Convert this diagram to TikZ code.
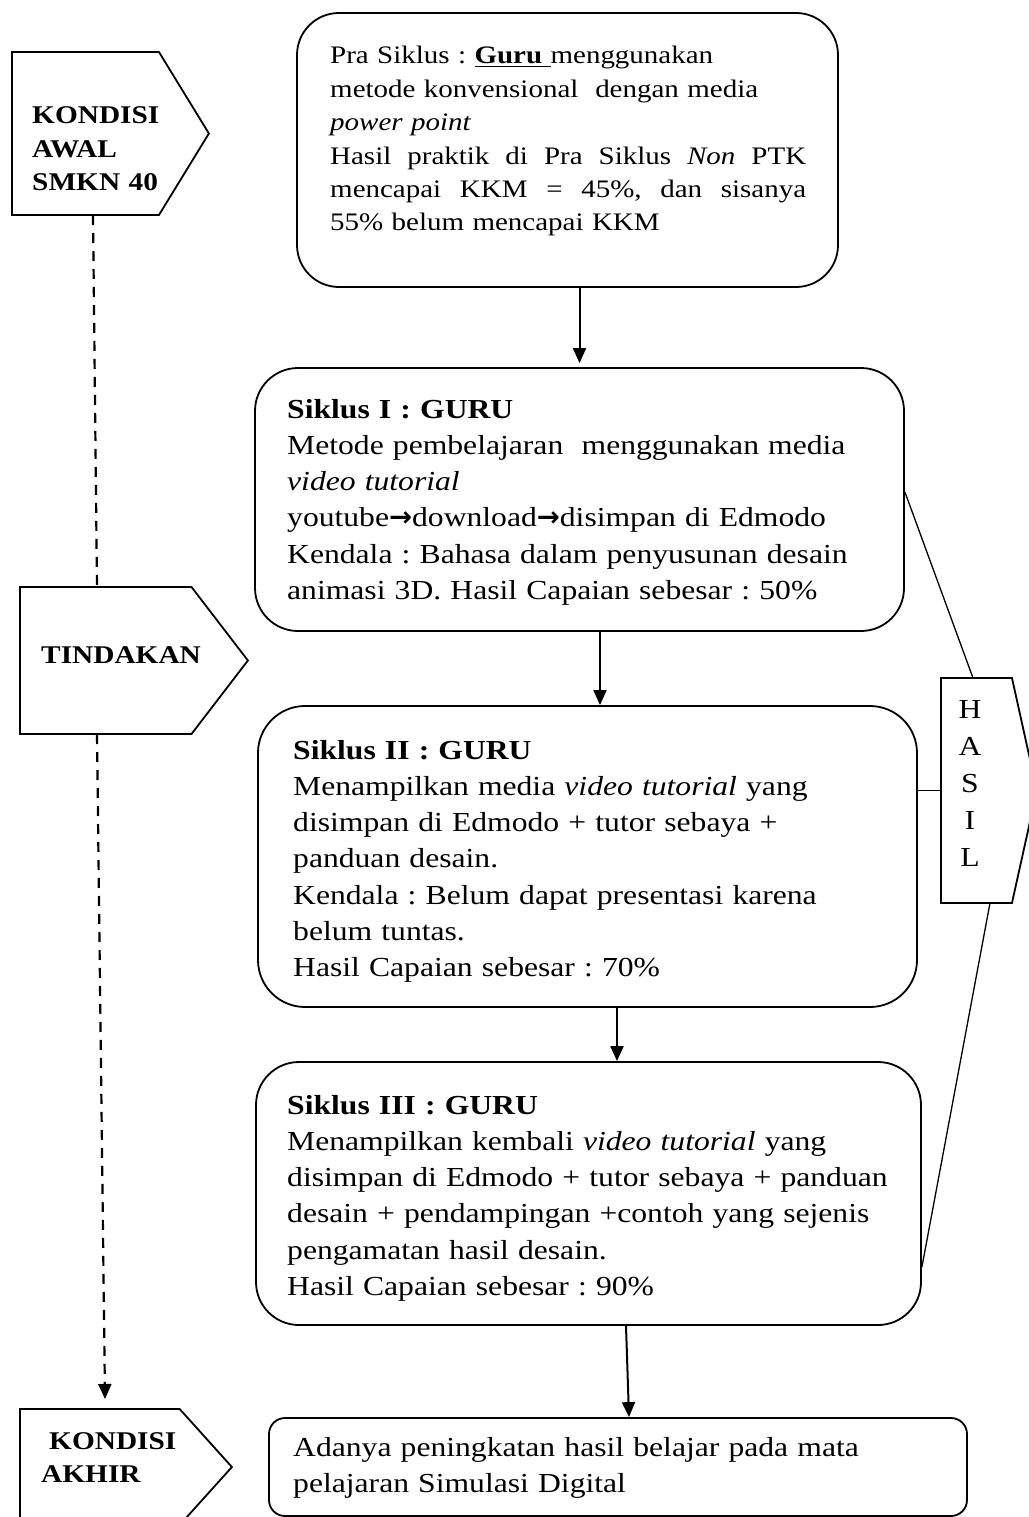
\documentclass[tikz,border=0pt]{standalone}
\usepackage{fontspec}
\setmainfont{Liberation Serif}[FakeStretch=1.15]
\newfontfamily\panahfont{DejaVu Sans}
\usetikzlibrary{shapes.symbols,arrows.meta}
\frenchspacing

\tikzset{
  kotak/.style={draw,line width=1.8pt,rounded corners=#1,inner sep=0pt},
  kotak/.default=43pt,
  penanda/.style={draw,line width=1.8pt,shape=signal,signal from=nowhere,signal to=east,inner sep=0pt,anchor=west},
  teks/.style={inner sep=0pt,anchor=base west,text width=#1,font=\fontsize{27.5}{36.3}\selectfont},
  teks/.default=640pt,
  judul/.style={inner sep=0pt,anchor=base west,text width=200pt,font=\fontsize{25.5}{33.5}\selectfont\bfseries},
  alur/.style={line width=2pt,-{Triangle[length=15pt,width=13pt]}},
  putus/.style={line width=2.2pt,dash pattern=on 10pt off 8pt},
  hubung/.style={line width=1.3pt}
}
\newcommand{\kanan}{{\panahfont\bfseries →}}

\begin{document}
\begin{tikzpicture}[x=1pt,y=1pt,yscale=-1,xscale=1]
\useasboundingbox (0,0) rectangle (1028,1517);

%Shape: Signal
\node[penanda,minimum width=197pt,minimum height=163pt,signal pointer angle=117] (awal) at (11,133.5) {};
%Shape: Signal
\node[penanda,minimum width=228pt,minimum height=147pt,signal pointer angle=105] (tindakan) at (19,660.5) {};
%Shape: Signal
\node[penanda,minimum width=212pt,minimum height=116pt,signal pointer angle=96] (akhir) at (19,1467) {};
%Shape: Signal
\node[penanda,minimum width=96pt,minimum height=225pt,signal pointer angle=155] (hasil) at (940,790.5) {};

%Shape: Rounded Rect
\node[kotak=42pt,minimum width=541pt,minimum height=274pt] (pra) at (567.5,150) {};
%Shape: Rounded Rect
\node[kotak,minimum width=649pt,minimum height=263pt] (siklusI) at (579.5,499.5) {};
%Shape: Rounded Rect
\node[kotak=47pt,minimum width=659pt,minimum height=301pt] (siklusII) at (587.5,856.5) {};
%Shape: Rounded Rect
\node[kotak,minimum width=665pt,minimum height=263pt] (siklusIII) at (588.5,1193.5) {};
%Shape: Rounded Rect
\node[kotak=16pt,minimum width=698pt,minimum height=98pt] (simpulan) at (618,1467) {};

%Straight Lines
\coordinate (c1) at ([xshift=20.5pt]siklusI.south);
\coordinate (c2) at ([xshift=29.5pt]siklusII.south);
\draw[alur,shorten >=4pt] (pra.south -| siklusI.north) -- (siklusI.north);
\draw[alur] (c1) -- (c1 |- siklusII.north);
\draw[alur] (c2) -- (c2 |- siklusIII.north);
\draw[alur] ([xshift=37.5pt]siklusIII.south) -- ([xshift=11pt]simpulan.north);

%Straight Lines
\draw[hubung] ([yshift=-7.5pt]siklusI.east) -- ([shift={(33pt,-112.5pt)}]hasil.west);
\draw[hubung] (siklusII.east |- hasil.west) -- (hasil.west);
\draw[hubung] ([yshift=73.5pt]siklusIII.east) -- ([shift={(50pt,112.5pt)}]hasil.west);

%Dashed Lines
\draw[putus] ([shift={(82pt,81.5pt)}]awal.west) -- ([shift={(78pt,-73.5pt)}]tindakan.west);
\draw[putus,-{Triangle[length=15pt,width=13pt]}] ([shift={(78pt,73.5pt)}]tindakan.west) -- ([shift={(86pt,-68pt)}]akhir.west);

% Text Node
\node[judul] (tawal) at (32,124) {KONDISI\\AWAL\\SMKN 40};
% Text Node
\node[judul] (ttindakan) at (41,663) {TINDAKAN};
% Text Node
\node[judul] (takhir) at (41,1449) {\hspace*{8pt}KONDISI\\AKHIR};
% Text Node
\node[teks=40pt,align=center,anchor=base,font=\fontsize{27.5}{37.2}\selectfont] (thasil) at (970,718) {H\\A\\S\\I\\L};

% Text Node
\node[teks=476pt,font=\fontsize{25.2}{33.4}\selectfont] (tpra) at (330,64) {Pra Siklus : \underline{\textbf{Guru}~}menggunakan\\
metode konvensional\ \ dengan media\\
\textit{power point}\\
\makebox[476pt][l]{Hasil\hfill praktik\hfill di\hfill Pra\hfill Siklus\hfill \textit{Non}\hfill PTK}\\
\makebox[476pt][l]{mencapai\hfill KKM\hfill =\hfill 45\%,\hfill dan\hfill sisanya}\\
55\% belum mencapai KKM};
% Text Node
\node[teks] (tsiklusI) at (287,418) {\textbf{Siklus I : GURU}\\
Metode pembelajaran\ \ menggunakan media\\
\textit{video tutorial}\\
youtube\kanan download\kanan disimpan di Edmodo\\
Kendala : Bahasa dalam penyusunan desain\\
animasi 3D. Hasil Capaian sebesar : 50\%};
% Text Node
\node[teks] (tsiklusII) at (293,759) {\textbf{Siklus II : GURU}\\
Menampilkan media \textit{video tutorial} yang\\
disimpan di Edmodo + tutor sebaya +\\
panduan desain.\\
Kendala : Belum dapat presentasi karena\\
belum tuntas.\\
Hasil Capaian sebesar : 70\%};
% Text Node
\node[teks] (tsiklusIII) at (287,1114) {\textbf{Siklus III : GURU}\\
Menampilkan kembali \textit{video tutorial} yang\\
disimpan di Edmodo + tutor sebaya + panduan\\
desain + pendampingan +contoh yang sejenis\\
pengamatan hasil desain.\\
Hasil Capaian sebesar : 90\%};
% Text Node
\node[teks] (tsimpulan) at (293,1456) {Adanya peningkatan hasil belajar pada mata\\
pelajaran Simulasi Digital};

\end{tikzpicture}
\end{document}
